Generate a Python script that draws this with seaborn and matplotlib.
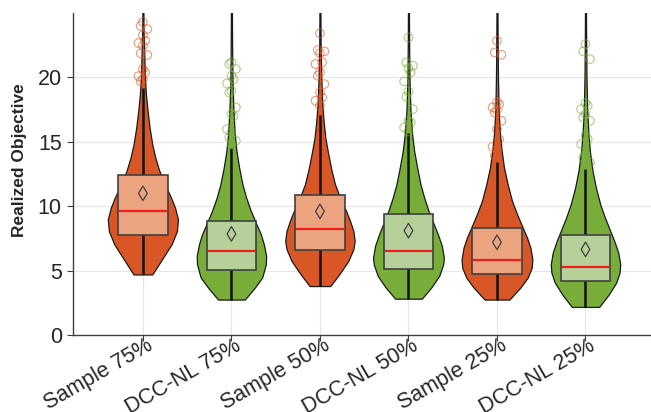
import numpy as np
import pandas as pd
import seaborn as sns
import matplotlib
matplotlib.use("Agg")
import matplotlib.pyplot as plt
import matplotlib.transforms as mtransforms


# Categories (one violin each)
labels = ["Sample 75%", "DCC-NL 75%", "Sample 50%", "DCC-NL 50%", "Sample 25%", "DCC-NL 25%"]

# Box statistics
mins = [4.7, 2.75, 3.8, 2.8, 2.75, 2.2]
q1 = [7.8, 5.05, 6.6, 5.15, 4.75, 4.2]
medians = [9.6, 6.5, 8.2, 6.5, 5.85, 5.3]
q3 = [12.45, 8.85, 10.85, 9.4, 8.3, 7.8]
means = [11.0, 7.85, 9.6, 8.1, 7.2, 6.65]
whisk_hi = [19.2, 14.5, 17.1, 15.65, 13.4, 12.9]

# Violin outlines: values and relative density at those values
vals_s75 = [4.7, 5.75, 7.05, 8.08, 8.99, 9.9, 10.67, 11.7, 12.75, 13.78, 14.8, 16.1, 17.4, 18.7, 20.0, 21.8, 23.6, 25.0, 26.0]
dens_s75 = [28, 54, 86, 102, 105, 96, 84, 66, 49, 37, 28, 20, 14, 9, 6, 4, 2, 1.5, 1]
vals_d75 = [2.75, 3.68, 4.46, 5.49, 6.14, 7.05, 7.82, 8.6, 9.64, 10.67, 11.7, 13.0, 14.3, 15.6, 17.4, 20.0, 22.6, 25.0, 26.0]
dens_d75 = [40, 70, 92, 103, 104, 97, 88, 75, 58, 44, 33, 23, 15, 10, 6, 3, 2, 1.5, 1]
vals_s50 = [3.8, 4.72, 5.75, 6.66, 7.31, 8.08, 8.86, 9.64, 10.67, 11.7, 12.75, 14.04, 15.34, 16.6, 17.9, 20.0, 22.6, 25.0, 26.0]
dens_s50 = [31, 58, 85, 100, 104, 100, 90, 78, 60, 45, 35, 25, 16, 11, 7, 4, 2, 1.5, 1]
vals_d50 = [2.82, 3.68, 4.59, 5.49, 6.01, 6.92, 7.82, 8.6, 9.64, 10.67, 11.7, 13.0, 14.3, 15.6, 17.4, 20.0, 22.6, 25.0, 26.0]
dens_d50 = [40, 68, 92, 104, 106, 100, 88, 76, 60, 47, 36, 26, 17, 11, 6, 3, 2, 1.5, 1]
vals_s25 = [2.75, 3.68, 4.46, 5.23, 5.88, 6.79, 7.56, 8.34, 9.38, 10.41, 11.7, 13.0, 14.3, 15.6, 17.4, 20.0, 22.6, 25.0, 26.0]
dens_s25 = [37, 70, 92, 104, 106, 100, 90, 77, 60, 45, 32, 21, 14, 9, 5, 3, 2, 1.5, 1]
vals_d25 = [2.18, 3.16, 4.07, 4.84, 5.49, 6.4, 7.31, 8.21, 9.12, 10.16, 11.45, 12.75, 14.3, 15.6, 17.4, 20.0, 22.6, 25.0, 26.0]
dens_d25 = [41, 70, 92, 102, 104, 98, 86, 72, 58, 44, 31, 21, 13, 9, 5, 3, 2, 1.5, 1]

# Outliers
out_s75 = [24.3, 24.0, 23.75, 23.3, 22.85, 22.67, 22.46, 21.87, 21.74, 20.65, 20.39, 20.1, 19.87, 19.69]
out_d75 = [21.17, 21.04, 20.65, 20.13, 19.87, 19.53, 18.96, 18.83, 17.67, 17.15, 17.02, 15.98, 15.73, 15.34, 15.08, 14.82]
out_s50 = [23.42, 22.12, 22.02, 21.87, 21.17, 21.04, 20.39, 20.13, 19.48, 18.83, 18.45, 18.19, 17.8]
out_d50 = [23.1, 21.17, 20.91, 20.73, 20.39, 19.69, 18.91, 18.5, 17.54, 16.63, 16.5, 16.11, 15.8]
out_s25 = [22.85, 21.94, 21.76, 18.06, 17.93, 17.67, 17.46, 17.28, 16.63, 15.98, 15.21, 14.61, 14.43, 13.91]
out_d25 = [22.59, 22.02, 21.42, 18.0, 17.8, 17.54, 17.15, 16.89, 16.63, 15.47, 15.21, 14.82, 14.04, 13.78, 13.39]

profiles = [(vals_s75, dens_s75), (vals_d75, dens_d75), (vals_s50, dens_s50),
            (vals_d50, dens_d50), (vals_s25, dens_s25), (vals_d25, dens_d25)]
outliers = [out_s75, out_d75, out_s50, out_d50, out_s25, out_d25]

orange, green = "#D95726", "#77AD38"
light_orange, light_green = "#EBA47F", "#B6D09A"

sns.set_style("whitegrid")
plt.rcParams["font.family"] = ["Liberation Sans", "DejaVu Sans"]

fig = plt.figure(figsize=(6.51, 4.12), dpi=100)
ax = fig.add_axes([0.1121, 0.1869, 0.8879, 0.7815])

positions = np.arange(1, len(labels) + 1)
half_violin = 0.40
half_box = 0.28
dmax = max(max(d) for _, d in profiles)

for i, pos in enumerate(positions):
    fill = orange if i % 2 == 0 else green
    light = light_orange if i % 2 == 0 else light_green
    v, d = profiles[i]
    w = np.array(d) / dmax * half_violin
    ax.fill_betweenx(v, pos - w, pos + w, facecolor=fill, edgecolor="#1a1a1a", lw=0.9, zorder=2)
    ax.vlines(pos, mins[i], whisk_hi[i], color="#111111", lw=1.8, zorder=3)
    ax.bar(pos, q3[i] - q1[i], bottom=q1[i], width=2 * half_box, color=light,
           edgecolor="#404040", lw=1.2, zorder=4)
    ax.hlines(medians[i], pos - half_box + 0.01, pos + half_box - 0.01, color="#F01E1E", lw=1.6, zorder=5)

    # outliers, spread a little sideways
    ys = outliers[i]
    xs = pos + np.array([(-1) ** k * 0.025 * (k % 3) for k in range(len(ys))])
    sns.scatterplot(x=xs, y=ys, ax=ax, marker="o", s=38, color=fill, facecolors="none",
                    edgecolor=fill, linewidth=0.8, alpha=0.6, zorder=6, legend=False)

df_means = pd.DataFrame({"pos": positions, "mean": means})
sns.scatterplot(data=df_means, x="pos", y="mean", ax=ax, marker="d", s=55, color="#404040",
                facecolors="none", edgecolor="#404040", linewidth=0.9, zorder=7, legend=False)

ax.set_xlim(0.21, 6.74)
ax.set_ylim(0, 25)
ax.set_yticks([0, 5, 10, 15, 20])
ax.set_xticks(positions)
ax.set_xlabel("")
ax.set_ylabel("Realized Objective", fontsize=12.5, fontweight="bold", color="#262626")
ax.yaxis.set_label_coords(-0.08, 0.543)

# rotated category labels, placed by hand so they sit like the original
offset = mtransforms.ScaledTranslation(0.03, 0.0, fig.dpi_scale_trans)
for pos, lab in zip(positions, labels):
    ax.text(pos, 0, lab, transform=ax.get_xaxis_transform() + offset, rotation=30,
            ha="right", va="top", rotation_mode="anchor", fontsize=15.5, color="#262626")

ax.grid(True, color="#E6E6E6", lw=0.8)
ax.set_axisbelow(True)
for side in ["top", "right"]:
    ax.spines[side].set_visible(False)
for side in ["left", "bottom"]:
    ax.spines[side].set_color("#404040")
    ax.spines[side].set_linewidth(1.0)
ax.tick_params(axis="both", labelsize=15.5, colors="#404040", labelcolor="#262626",
               length=4, width=0.8, direction="out", left=True, bottom=True, pad=4)
ax.tick_params(axis="x", labelbottom=False)

plt.savefig("out.png", dpi=100)
